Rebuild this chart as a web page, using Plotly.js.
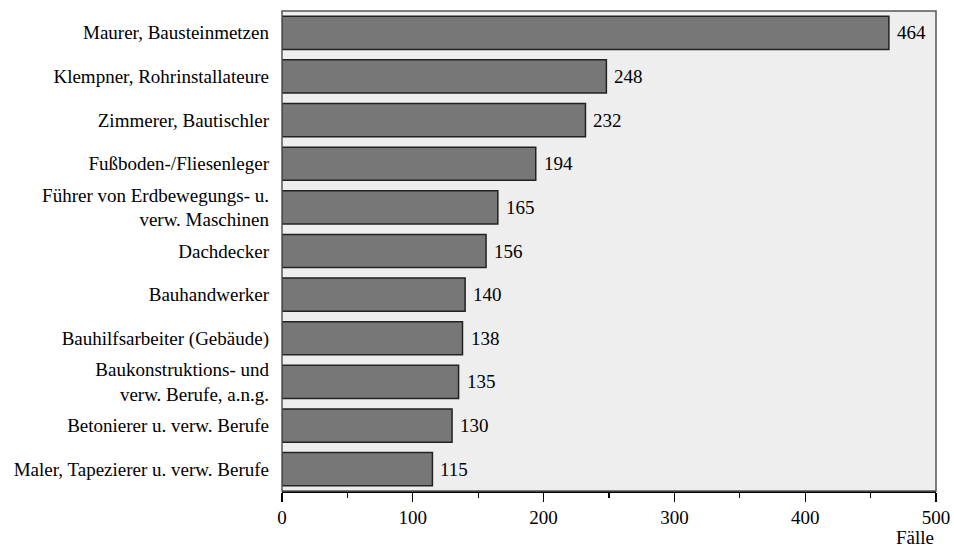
<!DOCTYPE html>
<html>
<head>
<meta charset="utf-8">
<script src="https://cdn.plot.ly/plotly-3.0.1.min.js"></script>
<style>html,body{margin:0;padding:0;background:#fff;}#chart{width:954px;height:551px;}</style>
</head>
<body>
<div id="chart"></div>
<script>
var categories = [
  "Maurer, Bausteinmetzen",
  "Klempner, Rohrinstallateure",
  "Zimmerer, Bautischler",
  "Fußboden-/Fliesenleger",
  "Führer von Erdbewegungs- u.<br>verw. Maschinen",
  "Dachdecker",
  "Bauhandwerker",
  "Bauhilfsarbeiter (Gebäude)",
  "Baukonstruktions- und<br>verw. Berufe, a.n.g.",
  "Betonierer u. verw. Berufe",
  "Maler, Tapezierer u. verw. Berufe"
];
var values = [464, 248, 232, 194, 165, 156, 140, 138, 135, 130, 115];
var xTicks = [0, 100, 200, 300, 400, 500];
var xUnit = "Fälle";

var FONT = "'Liberation Serif', 'Times New Roman', serif";
var FS = 19;

var trace = {
  type: "bar",
  orientation: "h",
  x: values,
  y: categories,
  marker: {color: "#777777", line: {color: "#222222", width: 1.5}},
  hoverinfo: "none"
};

var annotations = values.map(function(v, i){
  return {x: v, y: categories[i], xref: "x", yref: "y", text: String(v),
    showarrow: false, xanchor: "left", xshift: 6,
    font: {family: FONT, size: FS, color: "#000"}};
});
annotations.push({xref: "paper", yref: "paper", x: 1, y: 0, xanchor: "right", yanchor: "top",
  yshift: -34, text: xUnit, showarrow: false, font: {family: FONT, size: FS, color: "#000"}});

var layout = {
  width: 954, height: 551,
  margin: {l: 282, r: 18, t: 11, b: 60},
  paper_bgcolor: "#ffffff",
  plot_bgcolor: "#eeeeee",
  bargap: 0.24,
  showlegend: false,
  font: {family: FONT, size: FS, color: "#000"},
  xaxis: {
    range: [0, 500], tickvals: xTicks, ticktext: xTicks.map(String),
    showgrid: false, zeroline: false,
    showline: true, linecolor: "#000", linewidth: 1.5,
    ticks: "outside", ticklen: 9, tickcolor: "#000", tickwidth: 1.2,
    minor: {dtick: 50, tick0: 0, ticks: "outside", ticklen: 5, tickcolor: "#000", tickwidth: 1.2, showgrid: false},
    tickfont: {family: FONT, size: FS, color: "#000"},
    fixedrange: true
  },
  yaxis: {
    autorange: "reversed", showgrid: false, zeroline: false,
    showline: false, ticks: "", ticklabelstandoff: 12,
    tickfont: {family: FONT, size: FS, color: "#000"},
    fixedrange: true
  },
  shapes: [{type: "rect", xref: "paper", yref: "paper", x0: 0, x1: 1, y0: 0, y1: 1,
    line: {color: "#555555", width: 1.5}, layer: "above"}],
  annotations: annotations
};

Plotly.newPlot("chart", [trace], layout, {displayModeBar: false, staticPlot: true});
</script>
</body>
</html>
